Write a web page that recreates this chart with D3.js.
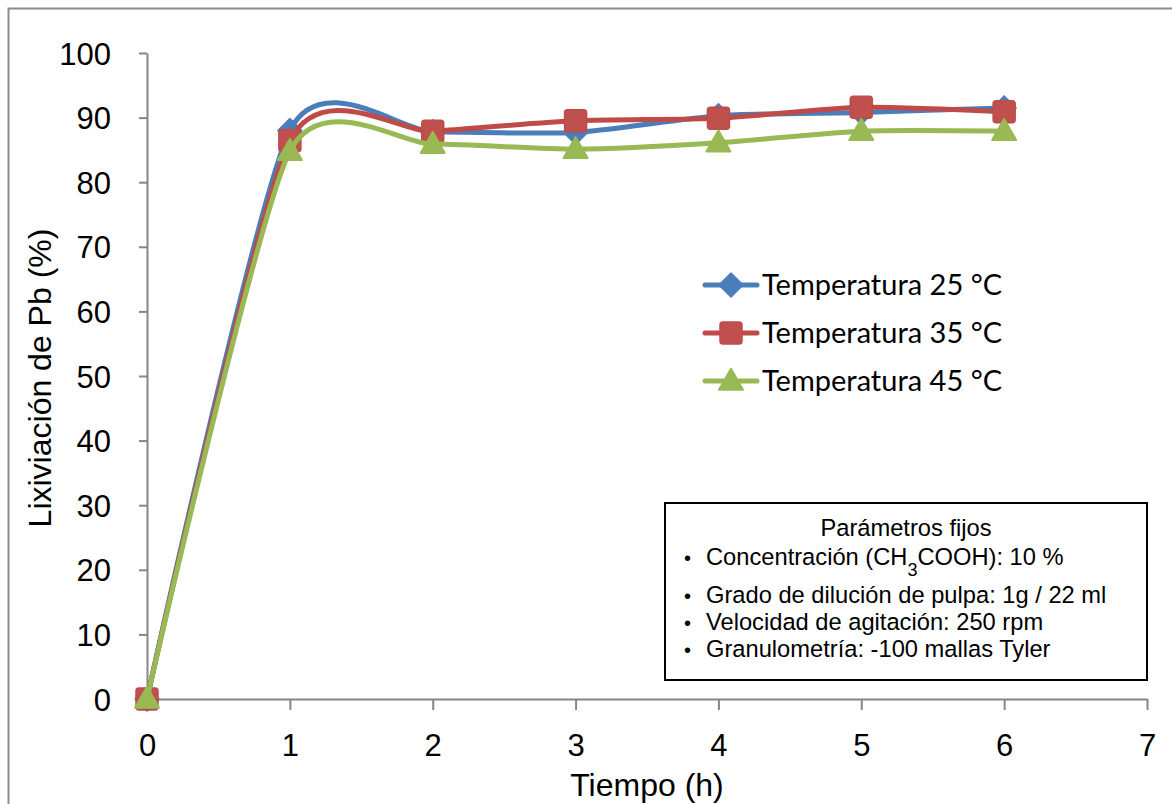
<!DOCTYPE html>
<html><head><meta charset="utf-8">
<script src="https://cdn.jsdelivr.net/npm/d3@7"></script>
<style>body{margin:0;background:#fff}svg{display:block}</style>
</head><body>
<svg id="c" width="1172" height="804"></svg>
<script>
const times = [0, 1, 2, 3, 4, 5, 6];
const t25 = [0, 88.0, 87.8, 87.7, 90.3, 90.8, 91.5];
const t35 = [0, 86.4, 87.9, 89.5, 89.9, 91.6, 90.9];
const t45 = [0, 84.8, 85.9, 85.1, 86.1, 87.9, 87.9];
const seriesNames = ["Temperatura 25 °C", "Temperatura 35 °C", "Temperatura 45 °C"];
const seriesColors = ["#4A7EBB", "#BE4B48", "#98B954"];
const seriesMarkers = ["diamond", "square", "triangle"];
const xTicks = [0, 1, 2, 3, 4, 5, 6, 7];
const yTicks = [0, 10, 20, 30, 40, 50, 60, 70, 80, 90, 100];
const noteTitle = "Parámetros fijos";
const noteLines = [
  ["Concentración (CH", "3", "COOH): 10 %"],
  ["Grado de dilución de pulpa: 1g / 22 ml"],
  ["Velocidad de agitación: 250 rpm"],
  ["Granulometría: -100 mallas Tyler"]
];

const svg = d3.select("#c");
const axisColor = "#868686";
const sans = "'Liberation Sans', Arial, sans-serif";

// outer border
svg.append("rect").attr("x", 8.5).attr("y", 8.5).attr("width", 1200).attr("height", 900)
  .attr("fill", "none").attr("stroke", "#8c8c8c").attr("stroke-width", 2);

const x = d3.scaleLinear().domain([0, 7]).range([147, 1147]);
const y = d3.scaleLinear().domain([0, 100]).range([699, 53]);

// axes
const gy = svg.append("g").attr("transform", `translate(${x(0)},0)`)
  .call(d3.axisLeft(y).tickValues(yTicks).tickFormat(d3.format("d")).tickSize(8).tickPadding(28).tickSizeOuter(0));
const gx = svg.append("g").attr("transform", `translate(0,${y(0)})`)
  .call(d3.axisBottom(x).tickValues(xTicks).tickFormat(d3.format("d")).tickSize(11).tickPadding(24).tickSizeOuter(0));
[gx, gy].forEach(g => {
  g.select(".domain").attr("stroke", axisColor).attr("stroke-width", 2);
  g.selectAll(".tick line").attr("stroke", axisColor).attr("stroke-width", 2);
  g.selectAll(".tick text").attr("fill", "#000").style("font-family", sans).style("font-size", "31px");
});
gx.select(".tick line").attr("y2", 0);
gy.selectAll(".tick text").attr("dy", "0.36em");

// axis titles
svg.append("text").attr("x", (x(0) + x(7)) / 2).attr("y", 796).attr("text-anchor", "middle")
  .style("font-family", sans).style("font-size", "32px").text("Tiempo (h)");
svg.append("text").attr("transform", `translate(51,${(y(0) + y(100)) / 2 + 2}) rotate(-90)`)
  .attr("text-anchor", "middle").style("font-family", sans).style("font-size", "32px")
  .text("Lixiviación de Pb (%)");

// marker drawing
function marker(g, type, cx, cy, color) {
  if (type === "diamond") {
    const r = 12;
    g.append("path").attr("d", `M${cx},${cy - r}L${cx + r},${cy}L${cx},${cy + r}L${cx - r},${cy}Z`)
      .attr("fill", color).attr("stroke", color).attr("stroke-width", 1.5).attr("stroke-linejoin", "round");
  } else if (type === "square") {
    const s = 22;
    g.append("rect").attr("x", cx - s / 2).attr("y", cy - s / 2).attr("width", s).attr("height", s)
      .attr("rx", 3).attr("fill", "#C0504D").attr("stroke", color).attr("stroke-width", 1.5);
  } else {
    const w = 12, h = 21;
    g.append("path").attr("d", `M${cx},${cy - h * 0.58}L${cx + w},${cy + h * 0.42}L${cx - w},${cy + h * 0.42}Z`)
      .attr("fill", color).attr("stroke", color).attr("stroke-width", 2).attr("stroke-linejoin", "round");
  }
}

const allSeries = [t25, t35, t45];
const line = d3.line().x(d => x(d[0])).y(d => y(d[1])).curve(d3.curveCardinal.tension(0.33));
allSeries.forEach((vals, i) => {
  const g = svg.append("g");
  const pts = times.map((t, j) => [t, vals[j]]);
  g.append("path").attr("d", line(pts)).attr("fill", "none").attr("stroke", seriesColors[i])
    .attr("stroke-width", 5).attr("stroke-linecap", "round");
  pts.forEach(p => marker(g, seriesMarkers[i], x(p[0]), y(p[1]), seriesColors[i]));
});

// legend
const legY = [285, 333, 381];
seriesNames.forEach((n, i) => {
  const g = svg.append("g");
  g.append("line").attr("x1", 705).attr("x2", 757).attr("y1", legY[i]).attr("y2", legY[i])
    .attr("stroke", seriesColors[i]).attr("stroke-width", 5).attr("stroke-linecap", "round");
  marker(g, seriesMarkers[i], 731, legY[i], seriesColors[i]);
  g.append("text").attr("x", 762).attr("y", legY[i]).attr("dy", "0.36em")
    .style("font-family", "Lato, 'Open Sans', sans-serif").style("font-size", "29px").text(n);
});

// note box
const nb = svg.append("g");
nb.append("rect").attr("x", 665).attr("y", 503).attr("width", 482).attr("height", 177)
  .attr("fill", "#fff").attr("stroke", "#000").attr("stroke-width", 2);
nb.append("text").attr("x", 906).attr("y", 536).attr("text-anchor", "middle")
  .style("font-family", sans).style("font-size", "23.7px").text(noteTitle);
const noteY = [565, 603, 630, 657];
noteLines.forEach((parts, i) => {
  nb.append("text").attr("x", 684).attr("y", noteY[i]).style("font-family", sans).style("font-size", "20px").text("•");
  const t = nb.append("text").attr("x", 706).attr("y", noteY[i]).style("font-family", sans).style("font-size", "23.7px");
  if (parts.length === 3) {
    t.append("tspan").text(parts[0]);
    t.append("tspan").attr("dy", 11).style("font-size", "18px").text(parts[1]);
    t.append("tspan").attr("dy", -11).text(parts[2]);
  } else t.text(parts[0]);
});
</script>
</body></html>
